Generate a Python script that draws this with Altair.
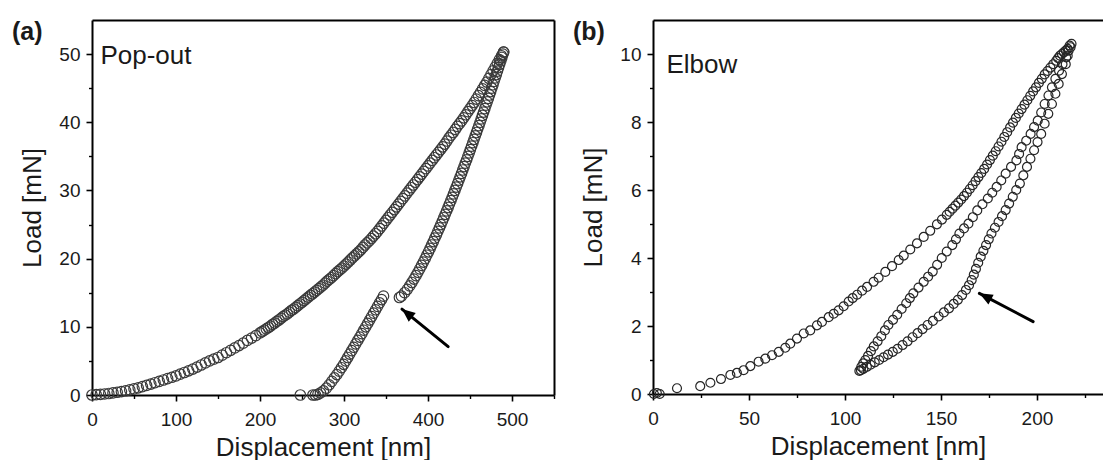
import altair as alt
import pandas as pd

FONT = "Liberation Sans"
INK = "#1a1a1a"

# ---------------- (a) Pop-out: load-displacement data ----------------
a_load_d = [0, 5, 10, 15, 20, 25, 30, 35, 40, 45,
            50, 55, 60, 65, 70, 75, 80, 85, 90, 95,
            100, 105, 110, 115, 120, 125, 130, 135, 140, 145,
            150, 155, 160, 165, 170, 175, 180, 185, 190, 195,
            200, 202.5, 205, 207.5, 210, 212.5, 215, 217.5, 220, 222.5,
            225, 227.5, 230, 232.5, 235, 237.5, 240, 242.5, 245, 247.5,
            250, 252.5, 255, 257.5, 260, 262.5, 265, 267.5, 270, 272.5,
            275, 277.5, 280, 282.5, 285, 287.5, 290, 292.5, 295, 297.5,
            300, 302.5, 305, 307.5, 310, 312.5, 315, 317.5, 320, 322.5,
            325, 327.5, 330, 332.5, 335, 337.5, 340, 342.5, 345, 347.5,
            350, 352.5, 355, 357.5, 360, 362.5, 365, 367.5, 370, 372.5,
            375, 377.5, 380, 382.5, 385, 387.5, 390, 392.5, 395, 397.5,
            400, 402.5, 405, 407.5, 410, 412.5, 415, 417.5, 420, 422.5,
            425, 427.5, 430, 432.5, 435, 437.5, 440, 442.5, 445, 447.5,
            450, 452.5, 455, 457.5, 460, 462.5, 465, 467.5, 470, 472.5,
            475, 477.5, 480, 482.5, 485, 487.5, 490]
a_load_p = [0.0, 0.05, 0.1, 0.15, 0.22, 0.3, 0.4, 0.5, 0.62, 0.75,
            0.9, 1.05, 1.22, 1.4, 1.6, 1.8, 2.0, 2.2, 2.4, 2.6,
            2.8, 3.05, 3.3, 3.55, 3.8, 4.1, 4.4, 4.7, 5.0, 5.25,
            5.5, 5.85, 6.2, 6.55, 6.9, 7.25, 7.6, 8.0, 8.35, 8.7,
            9.1, 9.3, 9.5, 9.7, 9.9, 10.1, 10.35, 10.55, 10.8, 11.0,
            11.25, 11.5, 11.7, 11.9, 12.15, 12.4, 12.6, 12.85, 13.1, 13.35,
            13.6, 13.85, 14.1, 14.35, 14.6, 14.85, 15.1, 15.35, 15.6, 15.85,
            16.1, 16.4, 16.7, 16.95, 17.2, 17.5, 17.8, 18.1, 18.35, 18.6,
            18.9, 19.2, 19.5, 19.8, 20.1, 20.4, 20.7, 21.0, 21.3, 21.65,
            22.0, 22.3, 22.6, 22.95, 23.3, 23.65, 24.0, 24.4, 24.8, 25.2,
            25.6, 26.0, 26.4, 26.8, 27.2, 27.6, 28.0, 28.4, 28.8, 29.2,
            29.6, 30.0, 30.4, 30.8, 31.2, 31.6, 32.0, 32.4, 32.8, 33.2,
            33.6, 34.0, 34.4, 34.8, 35.2, 35.6, 36.0, 36.4, 36.8, 37.25,
            37.7, 38.1, 38.5, 38.95, 39.4, 39.8, 40.2, 40.65, 41.1, 41.55,
            42.0, 42.45, 42.9, 43.4, 43.9, 44.4, 44.9, 45.4, 45.9, 46.45,
            47.0, 47.55, 48.1, 48.65, 49.2, 49.75, 50.3]

# unloading, upper part (down to the pop-out)
a_unl_hi_d = [490, 489.2, 487.9, 486.6, 485.3, 483.9, 482.6, 481.3, 479.9, 478.6,
              477.3, 475.9, 474.6, 473.2, 471.8, 470.4, 469.0, 467.6, 466.2, 464.8,
              463.4, 462.0, 460.6, 459.1, 457.7, 456.2, 454.8, 453.4, 451.9, 450.4,
              449.0, 447.5, 446.0, 444.4, 442.9, 441.4, 439.9, 438.3, 436.8, 435.2,
              433.6, 432.0, 430.4, 428.8, 427.2, 425.5, 423.9, 422.2, 420.5, 418.8,
              417.1, 415.3, 413.6, 411.8, 410.0, 408.1, 406.3, 404.4, 402.5, 400.6,
              398.6, 396.6, 394.5, 392.4, 390.2, 388.0, 385.7, 383.3, 380.8, 378.2,
              375.4, 372.2, 368.4, 366.0]
a_unl_hi_p = [50.3, 50.0, 49.5, 49.0, 48.5, 48.0, 47.5, 47.0, 46.5, 46.0,
              45.5, 45.0, 44.5, 44.0, 43.5, 43.0, 42.5, 42.0, 41.5, 41.0,
              40.5, 40.0, 39.5, 39.0, 38.5, 38.0, 37.5, 37.0, 36.5, 36.0,
              35.5, 35.0, 34.5, 34.0, 33.5, 33.0, 32.5, 32.0, 31.5, 31.0,
              30.5, 30.0, 29.5, 29.0, 28.5, 28.0, 27.5, 27.0, 26.5, 26.0,
              25.5, 25.0, 24.5, 24.0, 23.5, 23.0, 22.5, 22.0, 21.5, 21.0,
              20.5, 20.0, 19.5, 19.0, 18.5, 18.0, 17.5, 17.0, 16.5, 16.0,
              15.5, 15.0, 14.5, 14.3]

# unloading, lower part (after the pop-out)
a_unl_lo_d = [347, 344.7, 342.3, 340, 337.6, 335.3, 332.9, 330.6, 328.2, 325.9,
              323.5, 321.2, 318.8, 316.4, 314, 311.6, 309.2, 306.8, 304.4, 302,
              299.6, 297, 294.3, 291.5, 288.5, 285.5, 282.3, 279, 275.5, 272,
              269, 266, 263, 248]
a_unl_lo_p = [14.5, 14.0, 13.5, 13.0, 12.5, 12.0, 11.5, 11.0, 10.5, 10.0,
              9.5, 9.0, 8.5, 8.0, 7.5, 7.0, 6.5, 6.0, 5.5, 5.0,
              4.5, 4.0, 3.5, 3.0, 2.5, 2.0, 1.5, 1.0, 0.6, 0.3,
              0.1, 0.0, 0.0, 0.0]

# ---------------- (b) Elbow: load-displacement data ----------------
b_load_d = [0.5, 2, 3.5, 12.5, 24.6, 29.9, 35.4, 40.3, 43.7, 47.2,
            50.7, 55, 58.5, 62, 65.5, 68.9, 71.5, 75, 78.5, 81.9,
            85.4, 88, 91.5, 94.1, 96.7, 99.3, 101.9, 104, 106.3, 108.9,
            111.5, 114.9, 117.5, 121, 124.5, 128, 130.6, 134, 137.5, 141,
            144.4, 147.9, 150.5, 153, 154.5, 156, 157.5, 159, 160.5, 162,
            163.5, 165, 166.5, 168, 169.5, 171, 172.5, 174, 175.5, 177,
            178.5, 180, 181.5, 183, 184.5, 186, 187.5, 189, 190.5, 192,
            193.5, 195, 196.5, 198, 199.5, 201, 202.5, 204, 205.5, 207,
            208.5, 210, 211, 212, 213, 214, 215, 216, 217, 218]
b_load_p = [0.0, 0.03, 0.0, 0.17, 0.23, 0.33, 0.44, 0.56, 0.62, 0.70,
            0.82, 0.95, 1.04, 1.14, 1.24, 1.36, 1.48, 1.63, 1.78, 1.87,
            2.02, 2.12, 2.26, 2.36, 2.46, 2.58, 2.72, 2.82, 2.92, 3.04,
            3.15, 3.30, 3.42, 3.59, 3.76, 3.94, 4.07, 4.25, 4.43, 4.62,
            4.80, 4.99, 5.13, 5.27, 5.36, 5.45, 5.54, 5.63, 5.72, 5.82,
            5.92, 6.03, 6.14, 6.26, 6.38, 6.50, 6.62, 6.75, 6.88, 7.01,
            7.14, 7.28, 7.42, 7.56, 7.70, 7.84, 7.98, 8.12, 8.25, 8.38,
            8.51, 8.64, 8.77, 8.90, 9.02, 9.15, 9.27, 9.40, 9.50, 9.60,
            9.70, 9.80, 9.88, 9.95, 10.0, 10.05, 10.1, 10.15, 10.25, 10.3]

# reloading branch (middle loop)
b_rel_d = [107.5, 108.5, 109.5, 110.6, 112, 113.5, 115, 117, 118.9, 120.8,
           122.6, 125, 127.2, 129.5, 131.9, 133.8, 135.6, 138.3, 141, 143.3,
           145.7, 148, 150.4, 153, 155.9, 157.8, 159.6, 162, 164.3, 166.6,
           168.9, 171.6, 174.4, 176.7, 179, 181.4, 183.7, 186.5, 189.3, 190.7,
           192, 194.4, 196.7, 198.5, 200.4, 202.2, 204, 206, 207.8, 209.6,
           211.5, 213.3, 215.2, 216.5, 217.5]
b_rel_p = [0.68, 0.80, 0.90, 1.00, 1.12, 1.26, 1.40, 1.55, 1.70, 1.87,
           2.03, 2.18, 2.33, 2.50, 2.67, 2.82, 2.96, 3.13, 3.30, 3.45,
           3.60, 3.80, 4.00, 4.19, 4.38, 4.55, 4.72, 4.87, 5.01, 5.20,
           5.40, 5.58, 5.75, 5.92, 6.09, 6.28, 6.48, 6.68, 6.87, 7.06,
           7.26, 7.45, 7.65, 7.85, 8.04, 8.28, 8.53, 8.78, 9.02, 9.27,
           9.51, 9.70, 9.90, 10.1, 10.2]

# unloading branch with the elbow (lower right)
b_unl_d = [216, 215, 213, 211.3, 209.6, 207.8, 205.9, 204, 202.2, 200.3,
           198.5, 196.6, 194.8, 192.9, 191.1, 189.2, 187.4, 185.5, 183.7, 181.8,
           180, 178.1, 176.3, 174.9, 173.5, 172.1, 170.7, 169.4, 168.2, 167.1,
           166.0, 164.6, 163.0, 161.0, 158.8, 156.6, 154.2, 151.5, 148.8, 145.8,
           143.0, 140.4, 137.8, 135.2, 132.6, 130.0, 127.4, 124.9, 122.4, 120.1,
           117.8, 115.5, 113.3, 111.4, 109.6, 108.3]
b_unl_p = [9.95, 9.70, 9.41, 9.12, 8.83, 8.53, 8.24, 7.95, 7.65, 7.41,
           7.17, 6.92, 6.68, 6.43, 6.19, 6.00, 5.80, 5.60, 5.41, 5.23,
           5.06, 4.89, 4.72, 4.55, 4.38, 4.21, 4.04, 3.86, 3.68, 3.51,
           3.35, 3.20, 3.06, 2.91, 2.77, 2.65, 2.52, 2.40, 2.28, 2.15,
           2.03, 1.91, 1.79, 1.67, 1.55, 1.44, 1.33, 1.24, 1.16, 1.08,
           1.00, 0.93, 0.86, 0.80, 0.74, 0.70]

# annotations: arrows (tail -> tip), labels
a_arrow = {"d": [424], "p": [7.1], "d2": [369], "p2": [12.6]}
b_arrow = {"d": [198], "p": [2.13], "d2": [170], "p2": [2.96]}
a_label = {"d": [10], "p": [48.5], "t": ["Pop-out"]}
b_label = {"d": [7], "p": [9.43], "t": ["Elbow"]}
PANEL_TAGS = ["(a)", "(b)"]

X_TITLE = "Displacement [nm]"
Y_TITLE = "Load [mN]"


# ---------------- helpers ----------------
def major_axis(orient, values, title):
    return alt.Axis(orient=orient, values=values, title=title, grid=False,
                    domain=True, domainColor="black", domainWidth=2,
                    ticks=True, tickSize=6, tickWidth=1.6, tickColor="black",
                    labelFont=FONT, labelFontSize=19, labelColor=INK,
                    labelPadding=6 if orient == "left" else 9,
                    labelFlush=False, labelOverlap=False,
                    titleFont=FONT, titleFontSize=26, titleFontWeight="normal",
                    titleColor=INK, titlePadding=13 if orient == "left" else 5)


def minor_axis(orient, values):
    return alt.Axis(orient=orient, values=values, title=None, grid=False,
                    domain=False, labels=False, ticks=True, tickSize=3.5,
                    tickWidth=1.4, tickColor="black")


def frame_axis(orient):
    return alt.Axis(orient=orient, title=None, grid=False, domain=True,
                    domainColor="black", domainWidth=2, labels=False, ticks=False)


def panel(curves, xdom, ydom, xmaj, xmin, ymaj, ymin, w, h, arrow, label,
          tag, msize, mcolor, arrow_angle, right_frame):
    frames = []
    for d, p in curves:
        frames.append(pd.DataFrame({"d": d, "p": p}))
    df = pd.concat(frames, ignore_index=True)
    xs = alt.Scale(domain=xdom, nice=False, zero=False)
    ys = alt.Scale(domain=ydom, nice=False, zero=False)

    pts = alt.Chart(df).mark_point(
        shape="circle", filled=False, size=msize, strokeWidth=1.2,
        color=mcolor, opacity=1
    ).encode(
        x=alt.X("d:Q", scale=xs, axis=major_axis("bottom", xmaj, X_TITLE)),
        y=alt.Y("p:Q", scale=ys, axis=major_axis("left", ymaj, Y_TITLE)),
    )

    minors = alt.Chart(df).mark_point(opacity=0).encode(
        x=alt.X("d:Q", scale=xs, axis=minor_axis("bottom", xmin)),
        y=alt.Y("p:Q", scale=ys, axis=minor_axis("left", ymin)),
    )

    frame = alt.Chart(df).mark_point(opacity=0).encode(
        x=alt.X("d:Q", scale=xs, axis=frame_axis("top")),
        y=alt.Y("p:Q", scale=ys,
                axis=frame_axis("right") if right_frame else None),
    )

    adf = pd.DataFrame(arrow)
    shaft = alt.Chart(adf).mark_rule(color="black", strokeWidth=3,
                                     strokeCap="round").encode(
        x=alt.X("d:Q", scale=xs, axis=None),
        y=alt.Y("p:Q", scale=ys, axis=None),
        x2="d2:Q", y2="p2:Q",
    )
    head = alt.Chart(adf).mark_point(
        shape="M0,0L0.42,1L-0.42,1Z", filled=True, color="black",
        opacity=1, size=700, angle=arrow_angle, strokeWidth=0
    ).encode(
        x=alt.X("d2:Q", scale=xs, axis=None),
        y=alt.Y("p2:Q", scale=ys, axis=None),
    )

    txt = alt.Chart(pd.DataFrame(label)).mark_text(
        align="left", baseline="alphabetic", font=FONT, fontSize=26,
        color=INK
    ).encode(
        x=alt.X("d:Q", scale=xs, axis=None),
        y=alt.Y("p:Q", scale=ys, axis=None),
        text="t:N",
    )

    tag_mark = alt.Chart(pd.DataFrame({"t": [tag]})).mark_text(
        align="left", baseline="alphabetic", font=FONT, fontSize=25,
        fontWeight="bold", color=INK
    ).encode(x=alt.value(-80), y=alt.value(20), text="t:N")

    return alt.layer(frame, minors, pts, shaft, head, txt, tag_mark).resolve_axis(
        x="independent", y="independent"
    ).properties(width=w, height=h)


panel_a = panel(
    [(a_load_d, a_load_p), (a_unl_hi_d, a_unl_hi_p), (a_unl_lo_d, a_unl_lo_p)],
    [0, 550], [0, 55],
    [0, 100, 200, 300, 400, 500], [50, 150, 250, 350, 450, 550],
    [0, 10, 20, 30, 40, 50], [5, 15, 25, 35, 45],
    462, 375, a_arrow, a_label, PANEL_TAGS[0], 110, "#3a3a3a", 309, True,
)

panel_b = panel(
    [(b_load_d, b_load_p), (b_rel_d, b_rel_p), (b_unl_d, b_unl_p)],
    [0, 234.4], [0, 11],
    [0, 50, 100, 150, 200], [25, 75, 125, 175, 225],
    [0, 2, 4, 6, 8, 10], [1, 3, 5, 7, 9],
    450, 374, b_arrow, b_label, PANEL_TAGS[1], 80, "#262626", 298, False,
)

chart = alt.hconcat(panel_a, panel_b, spacing=18).properties(
    padding={"left": 12, "top": 20, "right": 0, "bottom": 0},
    background="white",
).configure_view(stroke=None)

chart.save("out.html", embed_options={"renderer": "svg", "actions": False})
